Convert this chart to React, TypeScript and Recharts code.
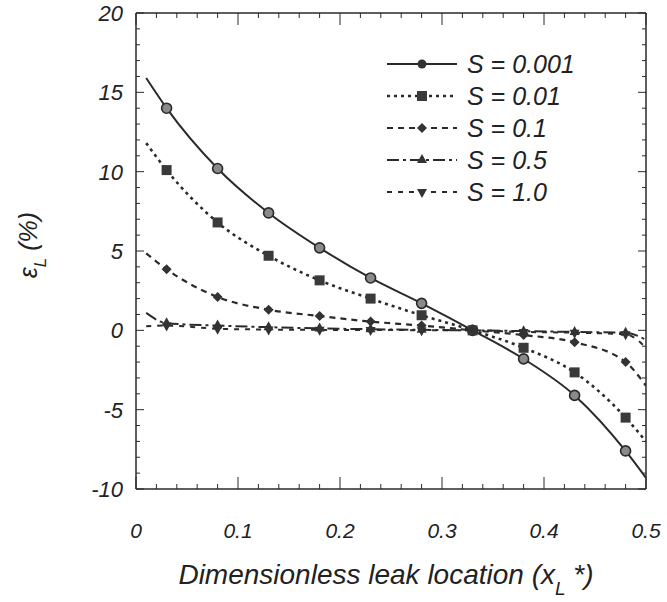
import React from 'react';
import { LineChart, Line, XAxis, YAxis } from 'recharts';

// x positions (dimensionless leak location); first and last are line ends without markers
const X_VALUES = [0.01, 0.03, 0.08, 0.13, 0.18, 0.23, 0.28, 0.33, 0.38, 0.43, 0.48, 0.5];
const S_0001 = [15.9, 14.0, 10.2, 7.4, 5.2, 3.3, 1.7, 0.0, -1.8, -4.1, -7.6, -9.3];
const S_001 = [11.8, 10.1, 6.8, 4.7, 3.15, 2.0, 0.95, 0.0, -1.1, -2.65, -5.5, -7.0];
const S_01 = [4.85, 3.85, 2.1, 1.3, 0.9, 0.55, 0.3, 0.0, -0.3, -0.75, -2.0, -3.5];
const S_05 = [1.1, 0.45, 0.3, 0.2, 0.12, 0.07, 0.03, 0.0, -0.05, -0.1, -0.15, -0.6];
const S_10 = [0.25, 0.3, 0.1, 0.05, 0.03, 0.02, 0.01, 0.0, -0.1, -0.15, -0.25, -1.1];

const SERIES_NAMES = ['S = 0.001', 'S = 0.01', 'S = 0.1', 'S = 0.5', 'S = 1.0'];

const X_TICKS = [0, 0.02, 0.04, 0.06, 0.08, 0.1, 0.12, 0.14, 0.16, 0.18, 0.2, 0.22, 0.24, 0.26, 0.28, 0.3, 0.32, 0.34, 0.36, 0.38, 0.4, 0.42, 0.44, 0.46, 0.48, 0.5];
const X_TICK_LABELS = ['0', '0.1', '0.2', '0.3', '0.4', '0.5'];
const Y_TICKS = [-10, -9, -8, -7, -6, -5, -4, -3, -2, -1, 0, 1, 2, 3, 4, 5, 6, 7, 8, 9, 10, 11, 12, 13, 14, 15, 16, 17, 18, 19, 20];
const Y_TICK_LABELS = ['-10', '-5', '0', '5', '10', '15', '20'];

const data = X_VALUES.map((x, i) => ({
  x,
  s0001: S_0001[i],
  s001: S_001[i],
  s01: S_01[i],
  s05: S_05[i],
  s10: S_10[i],
}));

const INK = '#2a2a2a';
const FONT = '"Liberation Sans", Arial, sans-serif';

type Shape = 'circle' | 'square' | 'diamond' | 'up' | 'down';

const SERIES: { key: string; dash: string; width: number; shape: Shape }[] = [
  { key: 's0001', dash: '', width: 2, shape: 'circle' },
  { key: 's001', dash: '3 4', width: 2.6, shape: 'square' },
  { key: 's01', dash: '6 5', width: 2.2, shape: 'diamond' },
  { key: 's05', dash: '12 4 3 4', width: 2, shape: 'up' },
  { key: 's10', dash: '5 6', width: 2, shape: 'down' },
];

function markerEl(shape: Shape, cx: number, cy: number, key?: any, legend?: boolean) {
  switch (shape) {
    case 'circle':
      return legend ? (
        <circle key={key} cx={cx} cy={cy} r={4.5} fill="#333" />
      ) : (
        <circle key={key} cx={cx} cy={cy} r={5} fill="#8a8a8a" stroke={INK} strokeWidth={1.6} />
      );
    case 'square':
      return <rect key={key} x={cx - 5} y={cy - 5} width={10} height={10} fill="#3a3a3a" />;
    case 'diamond':
      return <polygon key={key} points={`${cx},${cy - 5} ${cx + 5},${cy} ${cx},${cy + 5} ${cx - 5},${cy}`} fill="#333" />;
    case 'up':
      return <polygon key={key} points={`${cx},${cy - 6} ${cx + 5},${cy + 3} ${cx - 5},${cy + 3}`} fill="#333" />;
    case 'down':
      return <polygon key={key} points={`${cx},${cy + 6} ${cx + 5},${cy - 3} ${cx - 5},${cy - 3}`} fill="#333" />;
  }
}

const makeDot = (shape: Shape) => (p: any) => {
  const last = X_VALUES.length - 1;
  if (p.index === 0 || p.index === last || p.cx == null || p.cy == null) {
    return <g key={`d-${shape}-${p.index}`} />;
  }
  return markerEl(shape, p.cx, p.cy, `d-${shape}-${p.index}`);
};

const isMajorX = (v: number) => Math.abs(v * 10 - Math.round(v * 10)) < 1e-6;
const isMajorY = (v: number) => Math.abs(v % 5) < 1e-6;

const BottomTick = (p: any) => {
  const v = p.payload.value;
  const major = isMajorX(v);
  const idx = Math.round(v * 10);
  return (
    <g>
      <line x1={p.x} y1={p.y} x2={p.x} y2={p.y - (major ? 12 : 5)} stroke={INK} strokeWidth={1} />
      {major && (
        <text x={p.x} y={p.y + 49} textAnchor="middle" fontFamily={FONT} fontStyle="italic" fontSize={21} fill="#222">
          {X_TICK_LABELS[idx]}
        </text>
      )}
    </g>
  );
};

const TopTick = (p: any) => {
  const v = p.payload.value;
  const major = isMajorX(v);
  return <line x1={p.x} y1={p.y} x2={p.x} y2={p.y + (major ? 12 : 5)} stroke={INK} strokeWidth={1} />;
};

const LeftTick = (p: any) => {
  const v = p.payload.value;
  const major = isMajorY(v);
  const idx = Math.round((v + 10) / 5);
  return (
    <g>
      <line x1={p.x} y1={p.y} x2={p.x + (major ? 8 : 4)} y2={p.y} stroke={INK} strokeWidth={1} />
      {major && (
        <text x={p.x - 13} y={p.y + 8} textAnchor="end" fontFamily={FONT} fontStyle="italic" fontSize={22} fill="#222">
          {Y_TICK_LABELS[idx]}
        </text>
      )}
    </g>
  );
};

const RightTick = (p: any) => {
  const v = p.payload.value;
  const major = isMajorY(v);
  return <line x1={p.x} y1={p.y} x2={p.x - (major ? 8 : 4)} y2={p.y} stroke={INK} strokeWidth={1} />;
};

const axisLine = { stroke: INK, strokeWidth: 1.5 };

export default function App() {
  const legendRows = [64, 96, 128, 160, 192];
  return (
    <div style={{ position: 'absolute', left: 0, top: 0, width: 667, height: 602, background: '#fff' }}>
      <LineChart width={667} height={602} data={data} margin={{ top: 12, right: 20, left: 135, bottom: 112 }}>
        <XAxis
          dataKey="x"
          type="number"
          domain={[0, 0.5]}
          ticks={X_TICKS}
          interval={0}
          height={1}
          tickSize={0}
          tickMargin={0}
          tickLine={false}
          axisLine={axisLine}
          tick={BottomTick}
          allowDataOverflow
        />
        <XAxis
          xAxisId="top"
          orientation="top"
          dataKey="x"
          type="number"
          domain={[0, 0.5]}
          ticks={X_TICKS}
          interval={0}
          height={1}
          tickSize={0}
          tickMargin={0}
          tickLine={false}
          axisLine={axisLine}
          tick={TopTick}
          allowDataOverflow
        />
        <YAxis
          type="number"
          domain={[-10, 20]}
          ticks={Y_TICKS}
          interval={0}
          width={1}
          tickSize={0}
          tickMargin={0}
          tickLine={false}
          axisLine={axisLine}
          tick={LeftTick}
          allowDataOverflow
        />
        <YAxis
          yAxisId="right"
          orientation="right"
          type="number"
          domain={[-10, 20]}
          ticks={Y_TICKS}
          interval={0}
          width={1}
          tickSize={0}
          tickMargin={0}
          tickLine={false}
          axisLine={axisLine}
          tick={RightTick}
          allowDataOverflow
        />
        {SERIES.map((s) => (
          <Line
            key={s.key}
            dataKey={s.key}
            type="monotone"
            stroke={INK}
            strokeWidth={s.width}
            strokeDasharray={s.dash || undefined}
            dot={makeDot(s.shape)}
            activeDot={false}
            isAnimationActive={false}
          />
        ))}
      </LineChart>
      <svg width={667} height={602} style={{ position: 'absolute', left: 0, top: 0, pointerEvents: 'none' }}>
        {SERIES.map((s, i) => (
          <g key={s.key}>
            <line
              x1={387}
              y1={legendRows[i]}
              x2={457}
              y2={legendRows[i]}
              stroke={INK}
              strokeWidth={s.width}
              strokeDasharray={s.dash || undefined}
            />
            {markerEl(s.shape, 422, legendRows[i], undefined, true)}
            <text x={467} y={legendRows[i] + 9} fontFamily={FONT} fontStyle="italic" fontSize={25} fill="#222">
              {SERIES_NAMES[i]}
            </text>
          </g>
        ))}
        <text
          x={0}
          y={0}
          transform="translate(37,245) rotate(-90)"
          textAnchor="middle"
          fontFamily={FONT}
          fontStyle="italic"
          fontSize={25}
          fill="#222"
        >
          ε<tspan dy={9} fontSize={17}>L</tspan>
          <tspan dy={-9}> (%)</tspan>
        </text>
        <text x={386} y={584} textAnchor="middle" fontFamily={FONT} fontStyle="italic" fontSize={28} fill="#222">
          Dimensionless leak location (x<tspan dy={11} fontSize={19}>L</tspan>
          <tspan dy={-11}> *)</tspan>
        </text>
      </svg>
    </div>
  );
}
